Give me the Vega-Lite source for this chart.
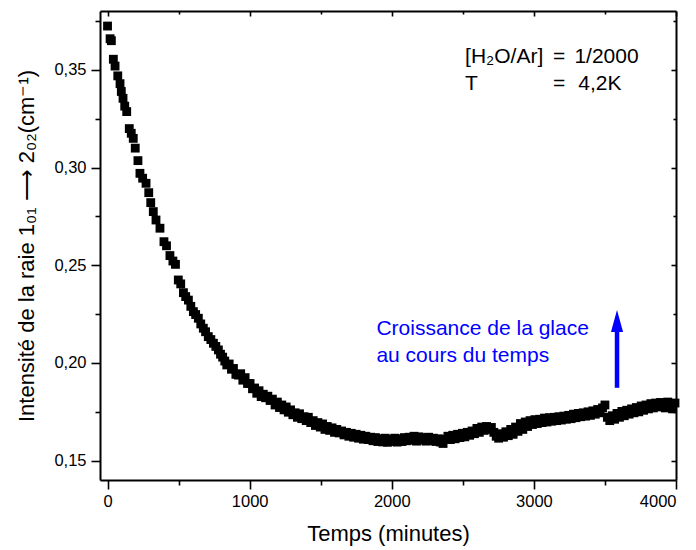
{
  "$schema": "https://vega.github.io/schema/vega-lite/v6.json",
  "autosize": {"type": "none"},
  "padding": {"left": 100, "top": 11, "right": 20, "bottom": 70},
  "width": 576,
  "height": 469,
  "background": "white",
  "config": {
    "view": {"stroke": null},
    "font": "Liberation Sans",
    "axis": {
      "domainColor": "black", "domainWidth": 2, "tickColor": "black", "tickWidth": 1.6,
      "labelFont": "Liberation Sans", "labelFontSize": 16.5, "labelColor": "black",
      "titleFont": "Liberation Sans", "titleFontSize": 22, "titleFontWeight": "normal", "titleColor": "black",
      "grid": false
    }
  },
  "datasets": {
    "pts": [
      {"t":0,"v":0.3725},{"t":18,"v":0.366},{"t":27,"v":0.365},{"t":41,"v":0.3555},{"t":53,"v":0.352},{"t":72,"v":0.347},{"t":88,"v":0.343},{"t":97,"v":0.339},{"t":109,"v":0.3355},{"t":121,"v":0.3315},{"t":135,"v":0.3287},{"t":153,"v":0.32},{"t":167,"v":0.3176},{"t":181,"v":0.315},{"t":195,"v":0.31},{"t":214,"v":0.3036},{"t":228,"v":0.2971},{"t":247,"v":0.2946},{"t":271,"v":0.292},{"t":290,"v":0.2872},{"t":304,"v":0.2821},{"t":322,"v":0.2775},{"t":341,"v":0.2732},{"t":369,"v":0.269},{"t":397,"v":0.2621},{"t":415,"v":0.26},{"t":439,"v":0.255},{"t":460,"v":0.2522},{"t":478,"v":0.2505},{"t":498,"v":0.2425},{"t":515,"v":0.2405},{"t":534,"v":0.236},{"t":550,"v":0.234},{"t":569,"v":0.2322},{"t":586,"v":0.229},{"t":604,"v":0.2263},{"t":620,"v":0.2248},{"t":639,"v":0.2229},{"t":656,"v":0.22},{"t":674,"v":0.2178},{"t":690,"v":0.216},{"t":709,"v":0.2135},{"t":727,"v":0.212},{"t":745,"v":0.2101},{"t":762,"v":0.2085},{"t":780,"v":0.2067},{"t":795,"v":0.2045},{"t":810,"v":0.203},{"t":825,"v":0.201},{"t":839,"v":0.199},
      {"t":856,"v":0.1995},{"t":872,"v":0.1968},{"t":886,"v":0.1972},{"t":903,"v":0.1942},{"t":921,"v":0.1938},{"t":937,"v":0.1945},{"t":952,"v":0.1912},{"t":968,"v":0.1925},{"t":985,"v":0.1895},{"t":1003,"v":0.1895},{"t":1020,"v":0.1868},{"t":1035,"v":0.1872},{"t":1050,"v":0.1845},{"t":1066,"v":0.1858},{"t":1081,"v":0.1828},{"t":1096,"v":0.184},{"t":1112,"v":0.1822},{"t":1128,"v":0.183},{"t":1144,"v":0.1808},{"t":1160,"v":0.1815},{"t":1179,"v":0.1785},{"t":1195,"v":0.18},{"t":1210,"v":0.1772},{"t":1226,"v":0.1785},{"t":1242,"v":0.176},{"t":1257,"v":0.1775},{"t":1272,"v":0.1748},{"t":1288,"v":0.176},{"t":1304,"v":0.1735},{"t":1320,"v":0.1745},{"t":1336,"v":0.1722},{"t":1351,"v":0.174},{"t":1367,"v":0.1715},{"t":1383,"v":0.1725},{"t":1398,"v":0.1705},{"t":1413,"v":0.1722},{"t":1430,"v":0.1695},{"t":1447,"v":0.1705},{"t":1463,"v":0.168},{"t":1480,"v":0.1695},{"t":1497,"v":0.1672},{"t":1513,"v":0.1688},{"t":1530,"v":0.166},{"t":1546,"v":0.1675},{"t":1563,"v":0.1655},{"t":1580,"v":0.1668},{"t":1597,"v":0.1645},{"t":1613,"v":0.166},{"t":1630,"v":0.1642},{"t":1647,"v":0.1652},{"t":1664,"v":0.1632},{"t":1681,"v":0.1645},{"t":1698,"v":0.1625},{"t":1715,"v":0.164},{"t":1732,"v":0.162},{"t":1749,"v":0.1635},{"t":1766,"v":0.1615},{"t":1783,"v":0.163},{"t":1800,"v":0.161},{"t":1817,"v":0.1625},{"t":1834,"v":0.1608},{"t":1851,"v":0.162},{"t":1868,"v":0.1602},{"t":1885,"v":0.1618},{"t":1902,"v":0.1598},{"t":1919,"v":0.1612},{"t":1936,"v":0.1596},{"t":1953,"v":0.1615},{"t":1970,"v":0.1594},{"t":1987,"v":0.161},{"t":2004,"v":0.1598},{"t":2021,"v":0.1615},{"t":2038,"v":0.1595},{"t":2055,"v":0.1612},{"t":2072,"v":0.1598},{"t":2089,"v":0.1618},{"t":2106,"v":0.1602},{"t":2123,"v":0.162},{"t":2140,"v":0.1605},{"t":2157,"v":0.1625},{"t":2174,"v":0.16},{"t":2191,"v":0.1622},{"t":2208,"v":0.1605},{"t":2225,"v":0.1618},{"t":2242,"v":0.16},{"t":2259,"v":0.162},{"t":2276,"v":0.1603},{"t":2293,"v":0.1615},{"t":2310,"v":0.1598},{"t":2327,"v":0.1612},{"t":2344,"v":0.1595},{"t":2361,"v":0.1588},{"t":2378,"v":0.161},{"t":2395,"v":0.1625},{"t":2412,"v":0.1608},{"t":2429,"v":0.163},{"t":2446,"v":0.1612},{"t":2463,"v":0.1635},{"t":2480,"v":0.1618},{"t":2497,"v":0.164},{"t":2514,"v":0.1622},{"t":2531,"v":0.1645},{"t":2548,"v":0.163},{"t":2565,"v":0.1652},{"t":2582,"v":0.1638},{"t":2599,"v":0.1665},{"t":2616,"v":0.1645},{"t":2633,"v":0.1672},{"t":2650,"v":0.1655},{"t":2667,"v":0.1675},{"t":2684,"v":0.166},{"t":2701,"v":0.167},{"t":2718,"v":0.1645},{"t":2735,"v":0.1625},{"t":2752,"v":0.1615},{"t":2769,"v":0.1638},{"t":2786,"v":0.162},{"t":2803,"v":0.1648},{"t":2820,"v":0.1628},{"t":2837,"v":0.166},{"t":2854,"v":0.1635},{"t":2871,"v":0.1672},{"t":2888,"v":0.165},{"t":2905,"v":0.169},{"t":2922,"v":0.166},{"t":2939,"v":0.1698},{"t":2956,"v":0.1675},{"t":2973,"v":0.1705},{"t":2990,"v":0.1685},{"t":3007,"v":0.171},{"t":3024,"v":0.169},{"t":3041,"v":0.1712},{"t":3058,"v":0.1695},{"t":3075,"v":0.1718},{"t":3092,"v":0.1698},{"t":3109,"v":0.172},{"t":3126,"v":0.1702},{"t":3143,"v":0.1722},{"t":3160,"v":0.1705},{"t":3177,"v":0.1725},{"t":3194,"v":0.1708},{"t":3211,"v":0.1728},{"t":3228,"v":0.1712},{"t":3245,"v":0.1732},{"t":3262,"v":0.1715},{"t":3279,"v":0.1738},{"t":3296,"v":0.172},{"t":3313,"v":0.1742},{"t":3330,"v":0.1725},{"t":3347,"v":0.1745},{"t":3364,"v":0.1728},{"t":3381,"v":0.175},{"t":3398,"v":0.1732},{"t":3415,"v":0.1755},{"t":3432,"v":0.1738},{"t":3449,"v":0.1762},{"t":3466,"v":0.1745},{"t":3483,"v":0.177},{"t":3500,"v":0.1785},{"t":3517,"v":0.1722},{"t":3534,"v":0.1705},{"t":3551,"v":0.173},{"t":3568,"v":0.1712},{"t":3585,"v":0.1742},{"t":3602,"v":0.1722},{"t":3619,"v":0.1752},{"t":3636,"v":0.173},{"t":3653,"v":0.1758},{"t":3670,"v":0.1738},{"t":3687,"v":0.1765},{"t":3704,"v":0.1745},{"t":3721,"v":0.1772},{"t":3738,"v":0.175},{"t":3755,"v":0.178},{"t":3772,"v":0.1758},{"t":3789,"v":0.1785},{"t":3806,"v":0.1765},{"t":3823,"v":0.1792},{"t":3840,"v":0.177},{"t":3857,"v":0.1795},{"t":3874,"v":0.1775},{"t":3891,"v":0.1798},{"t":3908,"v":0.178},{"t":3925,"v":0.177},{"t":3942,"v":0.18},{"t":3959,"v":0.1778},{"t":3976,"v":0.1765},{"t":3993,"v":0.1795}
    ],
    "notes": [
      {"x": 2516, "y": 0.3534, "label": "[H₂O/Ar]"},
      {"x": 3135, "y": 0.3534, "label": "="},
      {"x": 3285, "y": 0.3534, "label": "1/2000"},
      {"x": 2516, "y": 0.3397, "label": "T"},
      {"x": 3135, "y": 0.3397, "label": "="},
      {"x": 3312, "y": 0.3397, "label": "4,2K"}
    ],
    "blue": [
      {"x": 1892, "y": 0.2143, "label": "Croissance de la glace"},
      {"x": 1892, "y": 0.2007, "label": "au cours du temps"}
    ],
    "arrow": [
      {"x": 3585, "y": 0.1873, "y2": 0.2165, "head": 0.2215}
    ]
  },
  "resolve": {"axis": {"x": "independent", "y": "independent"}},
  "layer": [
    {
      "data": {"name": "pts"},
      "mark": {"type": "point", "shape": "square", "filled": true, "size": 78, "color": "black", "opacity": 1},
      "encoding": {
        "x": {
          "field": "t", "type": "quantitative",
          "scale": {"domain": [-53, 4000], "nice": false, "zero": false},
          "axis": {
            "orient": "bottom", "title": "Temps (minutes)",
            "values": [0, 500, 1000, 1500, 2000, 2500, 3000, 3500, 4000],
            "format": "d",
            "labelExpr": "datum.value % 1000 == 0 ? datum.label : ''",
            "tickSize": {"condition": {"test": "datum.value % 1000 == 0", "value": 9}, "value": 5},
            "labelPadding": 4, "titlePadding": 14
          }
        },
        "y": {
          "field": "v", "type": "quantitative",
          "scale": {"domain": [0.1401, 0.3802], "nice": false, "zero": false},
          "axis": {
            "orient": "left", "title": "Intensité de la raie 1₀₁ ⟶ 2₀₂(cm⁻¹)",
            "values": [0.15, 0.175, 0.2, 0.225, 0.25, 0.275, 0.3, 0.325, 0.35, 0.375],
            "labelExpr": "round(datum.value * 1000) % 50 == 0 ? replace(format(datum.value, '.2f'), '.', ',') : ''",
            "tickSize": {"condition": {"test": "round(datum.value * 1000) % 50 == 0", "value": 9}, "value": 5},
            "labelPadding": 5, "titlePadding": 15
          }
        }
      }
    },
    {
      "data": {"name": "notes"},
      "mark": {"type": "text", "align": "left", "baseline": "alphabetic", "fontSize": 21, "color": "black", "font": "Liberation Sans"},
      "encoding": {
        "x": {
          "field": "x", "type": "quantitative",
          "scale": {"domain": [-53, 4000], "nice": false, "zero": false},
          "axis": {
            "orient": "top", "title": null, "labels": false,
            "values": [0, 500, 1000, 1500, 2000, 2500, 3000, 3500, 4000],
            "tickSize": {"condition": {"test": "datum.value % 1000 == 0", "value": -5}, "value": -3}
          }
        },
        "y": {
          "field": "y", "type": "quantitative",
          "scale": {"domain": [0.1401, 0.3802], "nice": false, "zero": false},
          "axis": {
            "orient": "right", "title": null, "labels": false,
            "values": [0.15, 0.175, 0.2, 0.225, 0.25, 0.275, 0.3, 0.325, 0.35, 0.375],
            "tickSize": {"condition": {"test": "round(datum.value * 1000) % 50 == 0", "value": -5}, "value": -3}
          }
        },
        "text": {"field": "label"}
      }
    },
    {
      "data": {"name": "blue"},
      "mark": {"type": "text", "align": "left", "baseline": "alphabetic", "fontSize": 21, "color": "#0000FF", "font": "Liberation Sans"},
      "encoding": {
        "x": {"field": "x", "type": "quantitative", "axis": null},
        "y": {"field": "y", "type": "quantitative", "axis": null},
        "text": {"field": "label"}
      }
    },
    {
      "data": {"name": "arrow"},
      "mark": {"type": "rule", "color": "#0000FF", "strokeWidth": 4.5},
      "encoding": {
        "x": {"field": "x", "type": "quantitative", "axis": null},
        "y": {"field": "y", "type": "quantitative", "axis": null},
        "y2": {"field": "y2"}
      }
    },
    {
      "data": {"name": "arrow"},
      "mark": {"type": "point", "shape": "M0,-1L-0.55,1L0.55,1Z", "filled": true, "size": 484, "color": "#0000FF", "opacity": 1},
      "encoding": {
        "x": {"field": "x", "type": "quantitative", "axis": null},
        "y": {"field": "head", "type": "quantitative", "axis": null}
      }
    }
  ]
}
